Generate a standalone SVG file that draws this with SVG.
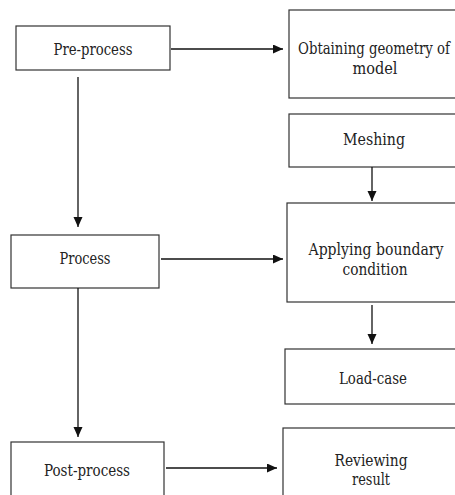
<svg xmlns="http://www.w3.org/2000/svg" width="455" height="495" viewBox="0 0 455 495">
<style>
.box{fill:#fff;stroke:#333;stroke-width:1.2}
.lbl{font-size:16.5px;fill:#222;text-anchor:middle}
.conn{stroke:#111;stroke-width:1.3;fill:none}
</style>
<defs>
<marker id="ah" markerUnits="userSpaceOnUse" markerWidth="10" markerHeight="10" refX="10" refY="4.5" orient="auto">
<path d="M0,0 L10,4.5 L0,9 z" fill="#111"/>
</marker>
</defs>
<rect width="455" height="495" fill="#fff"/>
<g font-family="'DejaVu Serif Condensed', 'DejaVu Serif', serif">
<g id="pre-process"><rect class="box" x="16" y="26" width="154" height="44"/><text class="lbl" x="93" y="55" textLength="79" lengthAdjust="spacingAndGlyphs">Pre-process</text></g>
<g id="obtaining"><rect class="box" x="289" y="10" width="173" height="88"/><text class="lbl" x="374" y="54" textLength="152" lengthAdjust="spacingAndGlyphs">Obtaining geometry of</text><text class="lbl" x="375" y="74" textLength="45" lengthAdjust="spacingAndGlyphs">model</text></g>
<g id="meshing"><rect class="box" x="289" y="114" width="173" height="53"/><text class="lbl" x="374" y="145" textLength="62" lengthAdjust="spacingAndGlyphs">Meshing</text></g>
<g id="process"><rect class="box" x="11" y="235" width="148" height="53"/><text class="lbl" x="85" y="264" textLength="51" lengthAdjust="spacingAndGlyphs">Process</text></g>
<g id="applying"><rect class="box" x="287" y="203" width="175" height="99"/><text class="lbl" x="376" y="255" textLength="135" lengthAdjust="spacingAndGlyphs">Applying boundary</text><text class="lbl" x="375" y="275" textLength="65" lengthAdjust="spacingAndGlyphs">condition</text></g>
<g id="load-case"><rect class="box" x="285" y="349" width="177" height="55"/><text class="lbl" x="373" y="384" textLength="68" lengthAdjust="spacingAndGlyphs">Load-case</text></g>
<g id="post-process"><rect class="box" x="11" y="442" width="153" height="60"/><text class="lbl" x="87" y="476" textLength="86" lengthAdjust="spacingAndGlyphs">Post-process</text></g>
<g id="reviewing"><rect class="box" x="283" y="428" width="179" height="74"/><text class="lbl" x="371" y="466" textLength="73" lengthAdjust="spacingAndGlyphs">Reviewing</text><text class="lbl" x="371" y="485" textLength="38" lengthAdjust="spacingAndGlyphs">result</text></g>
</g>
<g id="connectors">
<line class="conn" x1="171" y1="49" x2="283" y2="49" marker-end="url(#ah)"/>
<line class="conn" x1="78" y1="77" x2="78" y2="227" marker-end="url(#ah)"/>
<line class="conn" x1="372" y1="167" x2="372" y2="201" marker-end="url(#ah)"/>
<line class="conn" x1="161" y1="259" x2="283" y2="259" marker-end="url(#ah)"/>
<line class="conn" x1="78" y1="288" x2="78" y2="437" marker-end="url(#ah)"/>
<line class="conn" x1="372" y1="305" x2="372" y2="344" marker-end="url(#ah)"/>
<line class="conn" x1="166" y1="468" x2="277" y2="468" marker-end="url(#ah)"/>
</g>
</svg>
